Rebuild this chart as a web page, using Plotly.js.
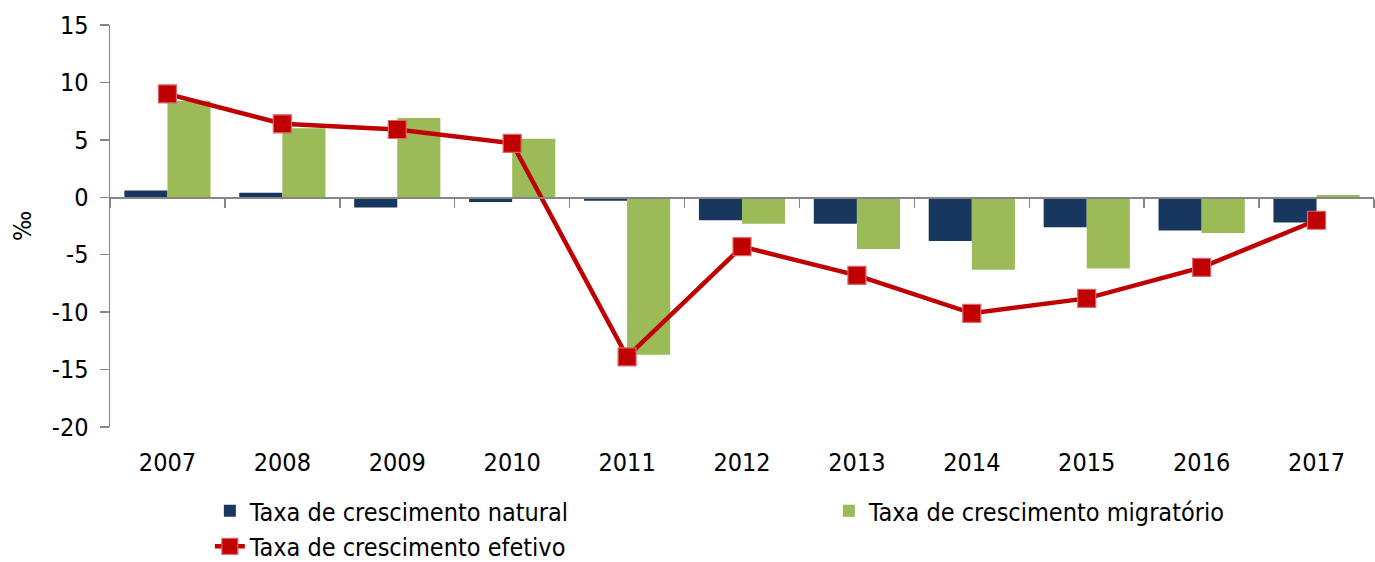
<!DOCTYPE html>
<html>
<head>
<meta charset="utf-8">
<script src="https://cdn.plot.ly/plotly-3.0.1.min.js"></script>
<style>html,body{margin:0;padding:0;background:#fff;}#chart{width:1375px;height:562px;}</style>
</head>
<body>
<div id="chart"></div>
<script>
var years = ['2007','2008','2009','2010','2011','2012','2013','2014','2015','2016','2017'];
var natural = [0.6, 0.4, -0.9, -0.4, -0.3, -2.0, -2.3, -3.8, -2.6, -2.9, -2.2];
var migratorio = [8.4, 6.0, 6.9, 5.1, -13.7, -2.3, -4.5, -6.3, -6.2, -3.1, 0.2];
var efetivo = [9.0, 6.4, 5.9, 4.7, -13.9, -4.3, -6.8, -10.1, -8.8, -6.1, -2.0];
var seriesNames = ['Taxa de crescimento natural', 'Taxa de crescimento migratório', 'Taxa de crescimento efetivo'];
var yTicks = [15, 10, 5, 0, -5, -10, -15, -20];

var FONT = '"DejaVu Sans Condensed", "DejaVu Sans", sans-serif';
var AX = '#868686';

var traces = [
  {type:'bar', name:seriesNames[0], x:years, y:natural, xaxis:'x', yaxis:'y',
   marker:{color:'#17375E', line:{width:0}}},
  {type:'bar', name:seriesNames[1], x:years, y:migratorio, xaxis:'x', yaxis:'y',
   marker:{color:'#9BBB59', line:{width:0}}},
  {type:'scatter', mode:'lines+markers', name:seriesNames[2], x:years, y:efetivo, xaxis:'x2', yaxis:'y',
   line:{color:'#C00000', width:4.5},
   marker:{symbol:'square', size:18, color:'#C00000', line:{color:'#D9676B', width:1.2}}}
];

var layout = {
  width:1375, height:562,
  margin:{l:110, r:1, t:25, b:135, autoexpand:false},
  paper_bgcolor:'#fff', plot_bgcolor:'#fff',
  font:{family:FONT, size:25, color:'#000'},
  barmode:'group', bargap:0.25, bargroupgap:0,
  showlegend:true,
  legend:{orientation:'h', x:0.079, xanchor:'left', y:-0.152, yanchor:'top',
          font:{family:FONT, size:25, color:'#000'}, entrywidth:574, entrywidthmode:'pixels',
          traceorder:'normal', bgcolor:'rgba(0,0,0,0)'},
  xaxis:{type:'category', anchor:'free', position:20/35, range:[-0.5, 10.5],
         showline:true, linecolor:AX, linewidth:1.5,
         ticks:'outside', tickson:'boundaries', ticklen:9, tickcolor:AX, tickwidth:1.5,
         showticklabels:false, showgrid:false, zeroline:false},
  xaxis2:{type:'category', overlaying:'x', anchor:'y', side:'bottom', range:[-0.5, 10.5],
          showline:false, ticks:'', showgrid:false, zeroline:false, ticklabelstandoff:18,
          tickfont:{family:FONT, size:25, color:'#000'}},
  yaxis:{range:[-20, 15], tickmode:'array', tickvals:yTicks, ticktext:yTicks.map(String),
         showline:true, linecolor:AX, linewidth:1.5, ticks:'outside', ticklen:9, tickcolor:AX, tickwidth:1.5,
         showgrid:false, zeroline:false, ticklabelstandoff:6,
         tickfont:{family:FONT, size:25, color:'#000'},
         title:{text:'‰', font:{family:FONT, size:25, color:'#000'}, standoff:13}}
};

Plotly.newPlot('chart', traces, layout, {displayModeBar:false, staticPlot:true});
</script>
</body>
</html>
